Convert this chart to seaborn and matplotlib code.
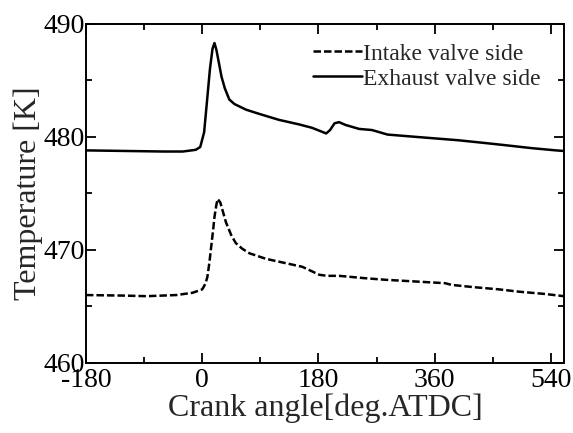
import numpy as np
import pandas as pd
import matplotlib
matplotlib.use('Agg')
import matplotlib.pyplot as plt
from matplotlib.ticker import MultipleLocator
import seaborn as sns

# Values
exhaust_angle = [-180, -120, -60, -30, -10, -3, 3, 8, 12, 16, 19, 22, 26, 30, 35, 42, 50,
                 68, 90, 119, 150, 170, 192, 198, 205, 212, 222, 243, 263, 287, 330, 396,
                 430, 463, 510, 548, 560]
exhaust_temp = [478.8, 478.75, 478.7, 478.7, 478.85, 479.1, 480.4, 483.5, 486.0, 487.8, 488.3,
                487.7, 486.5, 485.3, 484.3, 483.3, 482.9, 482.4, 482.0, 481.5, 481.1, 480.8,
                480.3, 480.6, 481.2, 481.3, 481.05, 480.7, 480.6, 480.2, 480.0, 479.7, 479.5,
                479.3, 479.0, 478.8, 478.75]

intake_angle = [-180, -120, -86, -40, -15, 0, 5, 8, 11, 14, 17, 19, 22, 24, 28, 33, 37, 45,
                52, 62, 73, 99, 139, 155, 170, 181, 193, 212, 250, 284, 330, 376, 386, 420,
                460, 490, 530, 560]
intake_temp = [466.0, 465.95, 465.9, 466.0, 466.2, 466.5, 467.0, 467.6, 468.8, 470.3, 471.8,
               472.9, 474.0, 474.5, 474.2, 473.2, 472.4, 471.3, 470.6, 470.1, 469.7, 469.2,
               468.7, 468.5, 468.1, 467.8, 467.7, 467.7, 467.5, 467.35, 467.2, 467.05, 466.9,
               466.7, 466.5, 466.3, 466.1, 465.9]

sns.set_style("ticks")
plt.rcParams['font.family'] = ['Liberation Serif', 'DejaVu Serif']
plt.rcParams['axes.unicode_minus'] = False

fig = plt.figure(figsize=(5.73, 4.33), dpi=100)
ax = fig.add_axes([0.150, 0.162, 0.834, 0.783])

df_in = pd.DataFrame({'angle': intake_angle, 'temp': intake_temp})
df_ex = pd.DataFrame({'angle': exhaust_angle, 'temp': exhaust_temp})

sns.lineplot(data=df_in, x='angle', y='temp', ax=ax, color='black', linewidth=1.8,
             linestyle=(0, (3.0, 1.2)), label='Intake valve side')
sns.lineplot(data=df_ex, x='angle', y='temp', ax=ax, color='black', linewidth=1.8,
             linestyle='-', label='Exhaust valve side')

ax.set_xlim(-180, 560)
ax.set_ylim(460, 490)
ax.xaxis.set_major_locator(MultipleLocator(180))
ax.xaxis.set_minor_locator(MultipleLocator(90))
ax.yaxis.set_major_locator(MultipleLocator(10))
ax.yaxis.set_minor_locator(MultipleLocator(5))
ax.tick_params(which='both', direction='in', top=True, right=True, width=1.3,
               labelsize=20, colors='black')
ax.tick_params(which='major', length=7, pad=4)
ax.tick_params(which='minor', length=4)
ax.tick_params(axis='y', pad=1)
for sp in ax.spines.values():
    sp.set_linewidth(1.4)
    sp.set_color('black')

ax.set_xlabel('Crank angle[deg.ATDC]', fontsize=23, labelpad=0)
ax.set_ylabel('Temperature [K]', fontsize=23, labelpad=0)

leg = ax.legend(loc='upper right', bbox_to_anchor=(541 / 573, 1 - 43 / 433),
                bbox_transform=fig.transFigure, frameon=False, fontsize=17,
                handlelength=2.1, handletextpad=0.05, labelspacing=0.15,
                borderpad=0, borderaxespad=0)

fig.savefig('out.png', dpi=100)
